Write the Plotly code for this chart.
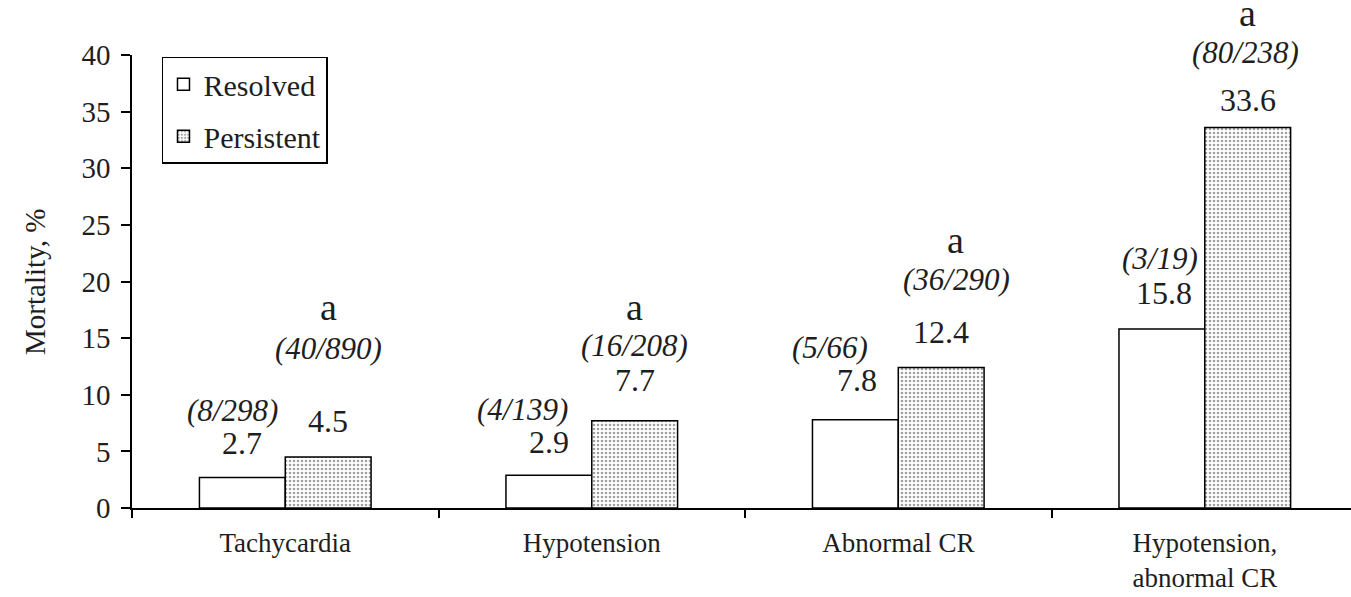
import plotly.graph_objects as go

# Mortality by clinical finding, resolved vs persistent
categories = ["Tachycardia", "Hypotension", "Abnormal CR", "Hypotension,<br>abnormal CR"]
resolved = [2.7, 2.9, 7.8, 15.8]
persistent = [4.5, 7.7, 12.4, 33.6]
resolved_counts = ["(8/298)", "(4/139)", "(5/66)", "(3/19)"]
persistent_counts = ["(40/890)", "(16/208)", "(36/290)", "(80/238)"]
significance = ["a", "a", "a", "a"]

# label placement (pixels above the top of each bar, horizontal nudge)
res_val_shift = [34, 33, 40, 36]
res_val_dx = [0, 0, 2, 2]
res_cnt_shift = [67, 66, 72, 71]
res_cnt_dx = [-10, -26, -25, -2]
per_val_shift = [36, 41, 36, 27]
per_cnt_shift = [109, 75, 88, 75]
per_cnt_dx = [0, 0, 15, -2]
sig_shift = [150, 114, 128, 114]
sig_dx = [0, 0, 14, 0]

SERIF = "Liberation Serif"
INK = "#1e1e22"
HALF = 0.14  # offset of each bar centre from the category centre

fig = go.Figure()
fig.add_trace(go.Bar(
    name="Resolved", x=categories, y=resolved,
    marker=dict(color="white", line=dict(color="black", width=1.5)),
    legendgroup="r",
))
fig.add_trace(go.Bar(
    name="Persistent", x=categories, y=persistent,
    marker=dict(color="white", line=dict(color="black", width=1.5),
                pattern=dict(shape=".", size=4, solidity=0.35,
                             fgcolor="#444444", bgcolor="white")),
    legendgroup="p",
))

ann = []
for i in range(len(categories)):
    xr = i - HALF
    xp = i + HALF
    ann.append(dict(x=xr, y=resolved[i], text=f"{resolved[i]}", yshift=res_val_shift[i],
                    xshift=res_val_dx[i], font=dict(size=32)))
    ann.append(dict(x=xr, y=resolved[i], text=f"<i>{resolved_counts[i]}</i>",
                    yshift=res_cnt_shift[i], xshift=res_cnt_dx[i], font=dict(size=31)))
    ann.append(dict(x=xp, y=persistent[i], text=f"{persistent[i]}", yshift=per_val_shift[i],
                    font=dict(size=32)))
    ann.append(dict(x=xp, y=persistent[i], text=f"<i>{persistent_counts[i]}</i>",
                    yshift=per_cnt_shift[i], xshift=per_cnt_dx[i], font=dict(size=31)))
    ann.append(dict(x=xp, y=persistent[i], text=significance[i], yshift=sig_shift[i],
                    xshift=sig_dx[i], font=dict(size=38)))
for a in ann:
    a.update(xref="x", yref="y", showarrow=False, yanchor="middle", xanchor="center")
    a["font"].update(family=SERIF, color=INK)

ann.append(dict(xref="paper", yref="paper", x=-0.080, y=0.5, xanchor="center", yanchor="middle",
                text="Mortality, %", textangle=-90, showarrow=False,
                font=dict(family=SERIF, size=29, color=INK)))

fig.update_layout(
    width=1351, height=597,
    margin=dict(l=132, r=0, t=55, b=89),
    paper_bgcolor="white", plot_bgcolor="white",
    barmode="group", bargap=0.44, bargroupgap=0,
    font=dict(family=SERIF, color=INK),
    annotations=ann,
    legend=dict(x=0.0246, y=0.996, xanchor="left", yanchor="top",
                bordercolor="black", borderwidth=1.5, bgcolor="white",
                font=dict(family=SERIF, size=30, color=INK),
                traceorder="grouped", tracegroupgap=10, itemwidth=30),
    xaxis=dict(range=[-0.5, 3.477], showline=True, linecolor="black", linewidth=1.5,
               ticks="outside", tickson="boundaries", ticklen=8, tickcolor="black",
               tickwidth=1.5, showgrid=False, ticklabelstandoff=10,
               tickfont=dict(family=SERIF, size=27, color=INK)),
    yaxis=dict(range=[0, 40], dtick=5, showline=True, linecolor="black", linewidth=1.5,
               ticks="outside", ticklen=9, tickcolor="black", tickwidth=1.5,
               showgrid=False, zeroline=False, ticklabelstandoff=5,
               tickfont=dict(family=SERIF, size=29, color=INK)),
)

fig.write_html("out.html")
